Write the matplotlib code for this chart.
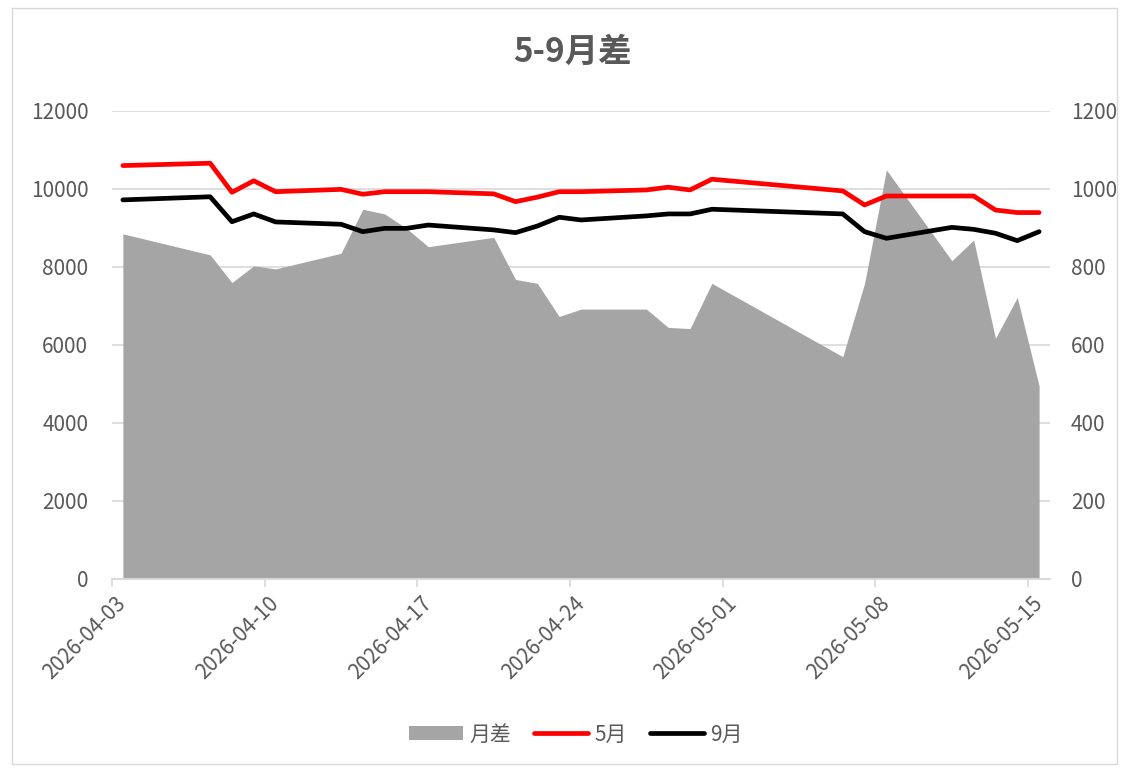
import numpy as np
import pandas as pd
import matplotlib
matplotlib.use("Agg")
import matplotlib.pyplot as plt
from matplotlib.patches import Rectangle, Patch
from matplotlib.lines import Line2D

plt.rcParams['font.family'] = ['Noto Sans CJK SC', 'DejaVu Sans']

# Data
dates = ["2026-04-03", "2026-04-07", "2026-04-08", "2026-04-09", "2026-04-10",
         "2026-04-13", "2026-04-14", "2026-04-15", "2026-04-16", "2026-04-17",
         "2026-04-20", "2026-04-21", "2026-04-22", "2026-04-23", "2026-04-24",
         "2026-04-27", "2026-04-28", "2026-04-29", "2026-04-30",
         "2026-05-06", "2026-05-07", "2026-05-08",
         "2026-05-11", "2026-05-12", "2026-05-13", "2026-05-14", "2026-05-15"]
may = [10600, 10660, 9915, 10210, 9930,
       9990, 9865, 9930, 9930, 9930,
       9875, 9675, 9790, 9930, 9930,
       9975, 10045, 9975, 10250,
       9950, 9590, 9820,
       9820, 9820, 9460, 9395, 9395]
sep = [9720, 9800, 9160, 9360, 9155,
       9095, 8905, 8990, 8990, 9075,
       8950, 8880, 9050, 9275, 9205,
       9310, 9360, 9360, 9480,
       9360, 8905, 8735,
       9015, 8965, 8865, 8675, 8905]
spread = [885, 831, 760, 803, 795,
          835, 948, 936, 899, 852,
          876, 768, 758, 673, 692,
          692, 645, 642, 758,
          570, 758, 1049,
          816, 869, 617, 722, 495]
tick_dates = ["2026-04-03", "2026-04-10", "2026-04-17", "2026-04-24",
              "2026-05-01", "2026-05-08", "2026-05-15"]

x = pd.to_datetime(dates)
ticks = pd.to_datetime(tick_dates)

grey_txt = '#595959'
grid_c = '#d9d9d9'
fs = 15

fig = plt.figure(figsize=(11.23, 7.69), dpi=100)
fig.patches.append(Rectangle((0.011, 0.006), 0.984, 0.984, transform=fig.transFigure,
                             fill=False, edgecolor=grid_c, linewidth=1))

ax = fig.add_axes([0.0997, 0.2471, 0.8353, 0.6086])
ax2 = ax.twinx()

# area on secondary axis, lines on primary axis drawn above it
ax2.fill_between(x, spread, 0, color='#a5a5a5', linewidth=0, zorder=2)
ax2.set_ylim(0, 1200)
ax2.set_yticks(np.arange(0, 1201, 200))
ax2.grid(axis='y', color=grid_c, linewidth=1.2, zorder=0)
ax2.set_axisbelow(True)

ax.plot(x, may, color='#ff0000', linewidth=3.4, solid_capstyle='round', solid_joinstyle='round', zorder=3)
ax.plot(x, sep, color='#000000', linewidth=3.4, solid_capstyle='round', solid_joinstyle='round', zorder=3)
ax.set_ylim(0, 12000)
ax.set_yticks(np.arange(0, 12001, 2000))
ax.set_zorder(ax2.get_zorder() + 1)
ax.patch.set_visible(False)

half = pd.Timedelta(hours=12)
ax.set_xlim(x[0] - half, x[-1] + half)
ax.set_xticks(ticks - half)
ax.set_xticklabels([])
ax.set_xticks(ticks, minor=True)
ax.set_xticklabels([t.strftime('%Y-%m-%d') for t in ticks], minor=True,
                   rotation=45, ha='right', va='center', rotation_mode='anchor')
ax.tick_params(axis='x', which='major', length=6, color=grid_c, width=1.2)
ax.tick_params(axis='x', which='minor', length=0, pad=15, labelsize=fs, labelcolor=grey_txt)
ax.tick_params(axis='y', length=0, pad=17, labelsize=fs, labelcolor=grey_txt)
ax2.tick_params(axis='y', length=0, pad=15, labelsize=fs, labelcolor=grey_txt)

for a in (ax, ax2):
    for s in ('top', 'left', 'right'):
        a.spines[s].set_visible(False)
    a.spines['bottom'].set_color(grid_c)
    a.spines['bottom'].set_linewidth(1.2)

fig.text(0.51, 0.932, '5-9月差', ha='center', va='center', fontsize=24,
         fontweight='bold', color=grey_txt)

handles = [Patch(facecolor='#a5a5a5', edgecolor='none'),
           Line2D([], [], color='#ff0000', linewidth=3.4, solid_capstyle='round'),
           Line2D([], [], color='#000000', linewidth=3.4, solid_capstyle='round')]
fig.legend(handles, ['月差', '5月', '9月'], loc='center', bbox_to_anchor=(0.513, 0.045),
           ncol=3, frameon=False, fontsize=fs, labelcolor=grey_txt,
           handlelength=2.6, handletextpad=0.3, columnspacing=1.1)

fig.savefig('out.png', dpi=100)
